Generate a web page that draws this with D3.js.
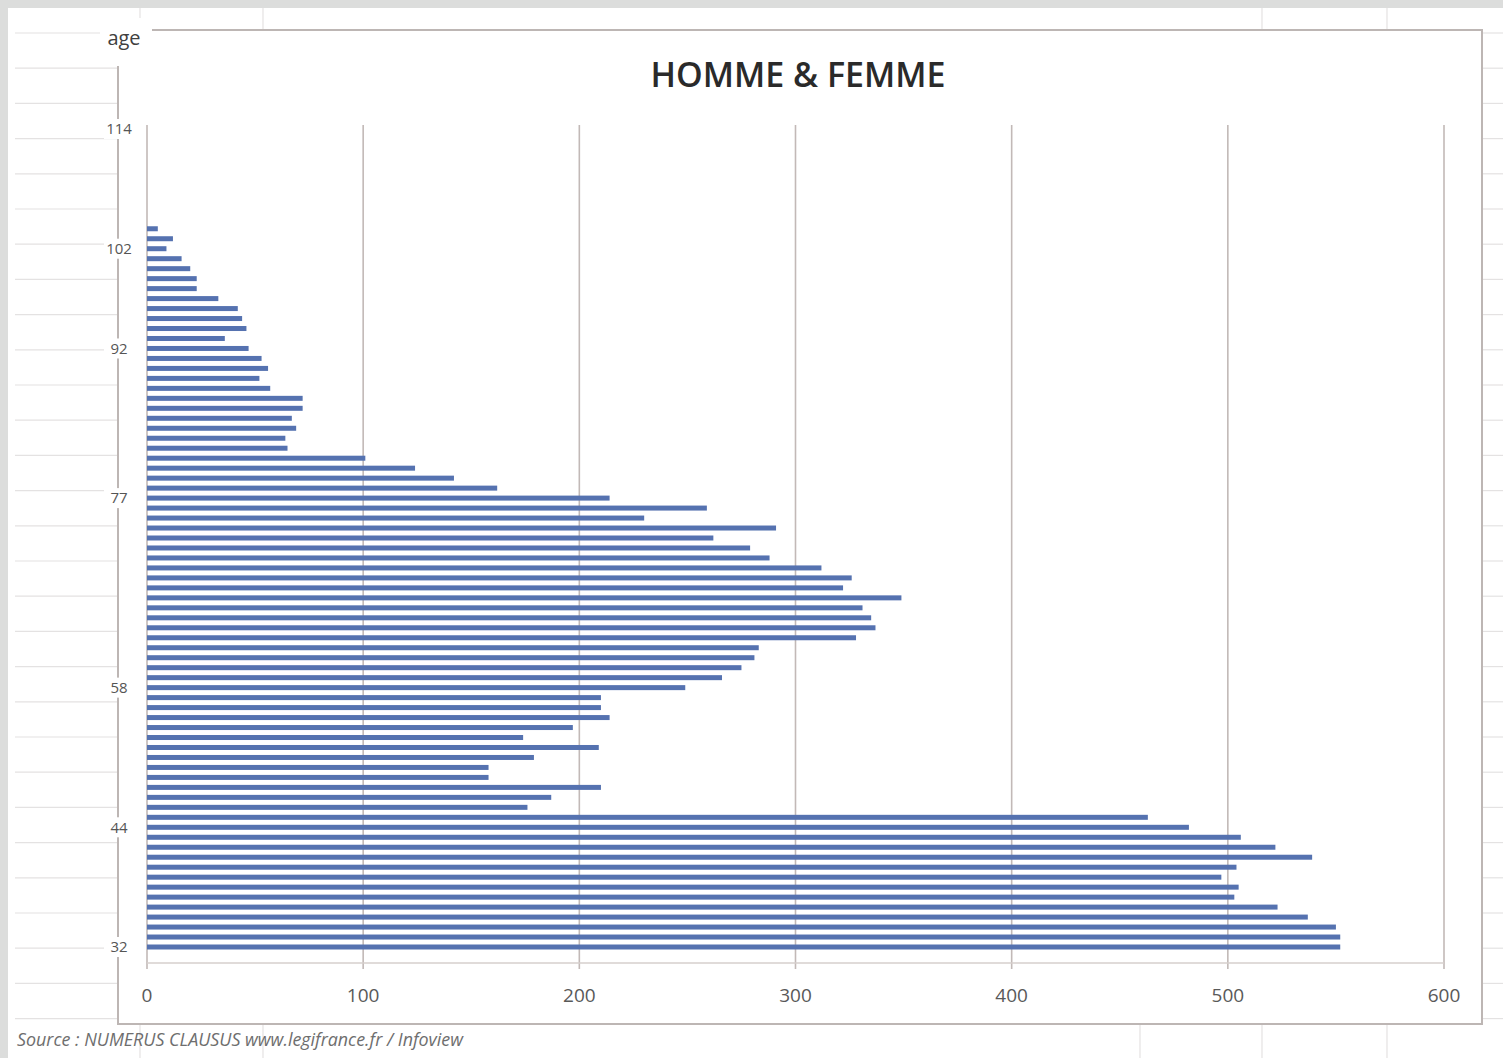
<html>
<head>
<style>
  body { margin: 0; background: #ffffff; }
  #chart text { font-family: "Open Sans", "DejaVu Sans", sans-serif; }
</style>
</head>
<body>
<div id="chart"></div>
<script src="https://cdn.jsdelivr.net/npm/d3@7"></script>
<script>

// ages 32 .. 104, one bar each
var ages = d3.range(32, 105);
var effectifs = [
  552, 552, 550, 537, 523, 503, 505, 497, 504, 539,   // 32-41
  522, 506, 482, 463, 176, 187, 210, 158, 158, 179,   // 42-51
  209, 174, 197, 214, 210, 210, 249, 266, 275, 281,   // 52-61
  283, 328, 337, 335, 331, 349, 322, 326, 312, 288,   // 62-71
  279, 262, 291, 230, 259, 214, 162, 142, 124, 101,   // 72-81
  65, 64, 69, 67, 72, 72, 57, 52, 56, 53,             // 82-91
  47, 36, 46, 44, 42, 33, 23, 23, 20, 16,             // 92-101
  9, 12, 5                                            // 102-104
];
var ageTicks = [32, 44, 58, 77, 92, 102, 114];
var valueTicks = [0, 100, 200, 300, 400, 500, 600];

var title = "HOMME & FEMME";
var axisTitle = "age";
var source = "Source : NUMERUS CLAUSUS www.legifrance.fr / Infoview";

var width = 1503, height = 1058;
var data = ages.map((a, i) => ({age: a, value: effectifs[i]}));

var svg = d3.select("#chart").append("svg")
  .attr("width", width)
  .attr("height", height);

// sheet background: grey frame + faint cell lines
svg.append("rect").attr("width", width).attr("height", height).attr("fill", "#dcdddc");
svg.append("rect").attr("x", 8).attr("y", 8).attr("width", width - 8).attr("height", height - 8).attr("fill", "#ffffff");

var cells = svg.append("g").attr("stroke", "#e4e2e2").attr("stroke-width", 1.2);
d3.range(33, 1050, 35.2).forEach(y => {
  cells.append("line").attr("x1", 15).attr("x2", 118).attr("y1", y).attr("y2", y);
  cells.append("line").attr("x1", 1482).attr("x2", width).attr("y1", y).attr("y2", y);
});
[140, 263, 1262, 1387].forEach(x => {
  cells.append("line").attr("x1", x).attr("x2", x).attr("y1", 8).attr("y2", 30);
});
[140, 263, 1140, 1262, 1387].forEach(x => {
  cells.append("line").attr("x1", x).attr("x2", x).attr("y1", 1024).attr("y2", height);
});

// chart area
var box = {left: 118, top: 30, right: 1482, bottom: 1024};
svg.append("rect")
  .attr("x", box.left).attr("y", box.top)
  .attr("width", box.right - box.left).attr("height", box.bottom - box.top)
  .attr("fill", "#ffffff")
  .attr("stroke", "#bdb6b4")
  .attr("stroke-width", 2);

var plot = {left: 147, right: 1444, top: 125, bottom: 963};

var x = d3.scaleLinear().domain([0, 600]).range([plot.left, plot.right]);
var y = d3.scaleLinear().domain([32, 114]).range([947, 129]);

// vertical gridlines
svg.append("g")
  .attr("stroke", "#c2b9b7")
  .attr("stroke-width", 1.6)
  .selectAll("line")
  .data(valueTicks)
  .join("line")
    .attr("x1", d => x(d)).attr("x2", d => x(d))
    .attr("y1", plot.top).attr("y2", plot.bottom + 6);

svg.append("line")
  .attr("x1", plot.left).attr("x2", plot.right)
  .attr("y1", plot.bottom).attr("y2", plot.bottom)
  .attr("stroke", "#d6cfcd").attr("stroke-width", 1.6);

// bars
svg.append("g")
  .selectAll("rect")
  .data(data)
  .join("rect")
    .attr("x", x(0))
    .attr("y", d => y(d.age) - 2.5)
    .attr("width", d => x(d.value) - x(0))
    .attr("height", 5)
    .attr("fill", "#5572b0");

// value axis labels
svg.append("g")
  .selectAll("text")
  .data(valueTicks)
  .join("text")
    .attr("x", d => x(d))
    .attr("y", 1002)
    .attr("text-anchor", "middle")
    .attr("font-size", 19)
    .attr("fill", "#595959")
    .text(d => d);

// age labels sit on the chart border with a white backing
var ageLab = svg.append("g")
  .selectAll("g")
  .data(ageTicks)
  .join("g")
    .attr("transform", d => "translate(119," + y(d) + ")");

ageLab.append("rect")
  .attr("x", -15).attr("y", -10)
  .attr("width", 30).attr("height", 20)
  .attr("fill", "#ffffff");

ageLab.append("text")
  .attr("text-anchor", "middle")
  .attr("dy", "0.35em")
  .attr("font-size", 15)
  .attr("fill", "#555555")
  .text(d => d);

svg.append("rect")
  .attr("x", 100).attr("y", 18).attr("width", 52).attr("height", 48)
  .attr("fill", "#ffffff");
svg.append("text")
  .attr("x", 124).attr("y", 45)
  .attr("text-anchor", "middle")
  .attr("font-size", 20)
  .attr("fill", "#404040")
  .text(axisTitle);

// title
svg.append("text")
  .attr("x", 798).attr("y", 87)
  .attr("text-anchor", "middle")
  .attr("font-size", 34)
  .attr("font-weight", 600)
  .attr("fill", "#2a2a2a")
  .attr("textLength", 295)
  .attr("lengthAdjust", "spacingAndGlyphs")
  .text(title);

// source note
svg.append("text")
  .attr("x", 17).attr("y", 1046)
  .attr("font-size", 18)
  .attr("font-style", "italic")
  .attr("fill", "#6e6e6e")
  .attr("textLength", 446)
  .attr("lengthAdjust", "spacingAndGlyphs")
  .text(source);

</script>
</body>
</html>
